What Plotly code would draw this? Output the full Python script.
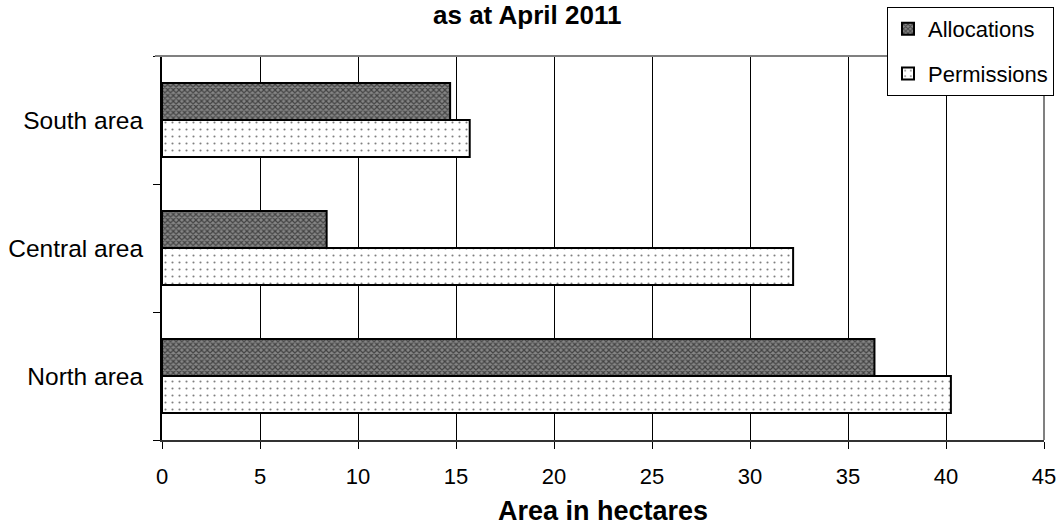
import plotly.graph_objects as go

categories = ["North area", "Central area", "South area"]
allocations = [36.35, 8.4, 14.7]
permissions = [40.25, 32.2, 15.7]
x_ticks = [0, 5, 10, 15, 20, 25, 30, 35, 40, 45]
title_text = "as at April 2011"
x_title = "Area in hectares"

FONT = "Liberation Sans, Arial, sans-serif"

fig = go.Figure()
fig.add_trace(go.Bar(
    y=categories, x=permissions, orientation="h", name="Permissions",
    legendgroup="b", legendrank=2,
    marker=dict(color="white",
                line=dict(color="black", width=2),
                pattern=dict(shape=".", fgcolor="black", bgcolor="white",
                             size=7, solidity=0.07)),
))
fig.add_trace(go.Bar(
    y=categories, x=allocations, orientation="h", name="Allocations",
    legendgroup="a", legendrank=1,
    marker=dict(color="#6a6a6a",
                line=dict(color="black", width=2),
                pattern=dict(shape="x", fgcolor="#000000", bgcolor="#868686",
                             size=4, solidity=0.5)),
))

fig.update_layout(
    width=1061, height=526,
    margin=dict(l=162, r=17, t=56, b=86, autoexpand=False),
    paper_bgcolor="white", plot_bgcolor="white",
    barmode="group", bargap=0.42, bargroupgap=0,
    font=dict(family=FONT, color="black", size=22),
    showlegend=True,
    legend=dict(
        xref="container", yref="container",
        x=887 / 1061, y=1 - 7 / 526, xanchor="left", yanchor="top",
        bgcolor="white", bordercolor="black", borderwidth=1,
        font=dict(size=22, family=FONT), tracegroupgap=13,
        itemwidth=30,
    ),
    annotations=[dict(
        text="<b>" + title_text + "</b>", xref="paper", yref="paper",
        x=(527 - 162) / 882, y=1.106, xanchor="center", yanchor="middle",
        showarrow=False, font=dict(size=26, family=FONT, color="black"),
    )],
)

fig.update_xaxes(
    range=[0, 45], tickvals=x_ticks, ticktext=[str(t) for t in x_ticks],
    showgrid=True, gridcolor="black", gridwidth=1,
    showline=True, linecolor="#333333", linewidth=2, mirror=False,
    ticks="outside", ticklen=7, tickcolor="black",
    tickfont=dict(size=22, family=FONT), ticklabelstandoff=9,
    zeroline=False, automargin=False,
    title=dict(text="<b>" + x_title + "</b>", font=dict(size=27, family=FONT), standoff=14),
)
fig.update_yaxes(
    type="category", categoryorder="array", categoryarray=categories,
    range=[-0.5, 2.5], automargin=False,
    showgrid=False, showline=True, linecolor="black", linewidth=2,
    ticks="outside", ticklen=7, tickcolor="black", tickson="boundaries",
    tickfont=dict(size=24.5, family=FONT), ticklabelstandoff=12,
)
# gray plot-area border on top and right
fig.add_shape(type="line", xref="paper", yref="paper", x0=-0.008, x1=1, y0=1, y1=1,
              line=dict(color="#808080", width=2))
fig.add_shape(type="line", xref="paper", yref="paper", x0=1, x1=1, y0=0, y1=1,
              line=dict(color="#808080", width=2))

fig.write_html("out.html",
               config={"displayModeBar": False},
               post_script="document.body.style.margin='0';document.body.style.overflow='hidden';")
